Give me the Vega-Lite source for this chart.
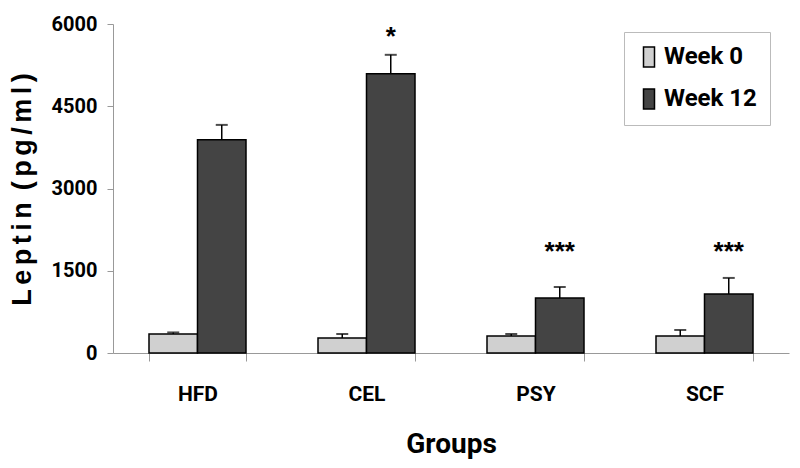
{
  "$schema": "https://vega.github.io/schema/vega-lite/v6.json",
  "autosize": "none",
  "padding": {"left": 113, "top": 24, "right": 11, "bottom": 115},
  "width": 676,
  "height": 329,
  "background": "white",
  "config": {"view": {"stroke": null}},
  "data": {"values": [
    {"group": "HFD", "week": "Week 0", "value": 347, "upper": 375},
    {"group": "HFD", "week": "Week 12", "value": 3887, "upper": 4160},
    {"group": "CEL", "week": "Week 0", "value": 274, "upper": 347},
    {"group": "CEL", "week": "Week 12", "value": 5091, "upper": 5438, "sig": "*", "sigAt": 5620},
    {"group": "PSY", "week": "Week 0", "value": 310, "upper": 347},
    {"group": "PSY", "week": "Week 12", "value": 1004, "upper": 1204, "sig": "***", "sigAt": 1700},
    {"group": "SCF", "week": "Week 0", "value": 310, "upper": 420},
    {"group": "SCF", "week": "Week 12", "value": 1077, "upper": 1369, "sig": "***", "sigAt": 1700}
  ]},
  "encoding": {
    "x": {
      "field": "group", "type": "nominal", "sort": ["HFD", "CEL", "PSY", "SCF"],
      "scale": {"paddingInner": 0.426, "paddingOuter": 0.213},
      "axis": {
        "title": "Groups", "labelAngle": 0, "tickBand": "extent", "grid": false,
        "domainColor": "#999999", "tickColor": "#999999", "tickSize": 8,
        "labelFont": "Roboto, sans-serif",
        "labelFontSize": 21, "labelFontWeight": "bold", "labelColor": "black", "labelPadding": 22,
        "titleFont": "Roboto, sans-serif",
        "titleFontSize": 28, "titleFontWeight": "bold", "titleColor": "black",
        "titleY": 99, "titleBaseline": "alphabetic"
      }
    },
    "xOffset": {"field": "week", "type": "nominal", "scale": {"paddingInner": 0, "paddingOuter": 0}}
  },
  "layer": [
    {
      "mark": {"type": "bar", "stroke": "black", "strokeWidth": 1.5},
      "encoding": {
        "y": {
          "field": "value", "type": "quantitative",
          "scale": {"domain": [0, 6000], "nice": false},
          "axis": {
            "title": "L\u2006e\u2006p\u2006t\u2006i\u2006n \u2006(\u2006p\u2006g\u2006/\u2006m\u2006l\u2006)",
            "values": [0, 1500, 3000, 4500, 6000], "format": "d", "grid": false,
            "domainColor": "#999999", "tickColor": "#999999", "tickSize": 6,
            "labelFont": "Roboto, sans-serif",
            "labelFontSize": 20, "labelFontWeight": "bold", "labelColor": "black", "labelPadding": 10,
            "titleFont": "Liberation Sans, Arial, sans-serif", "titleFontSize": 27, "titleFontWeight": "bold",
            "titleColor": "black", "titleAngle": -90, "titleX": -91, "titleY": 165,
            "titleAlign": "center", "titleBaseline": "middle"
          }
        },
        "fill": {
          "field": "week", "type": "nominal",
          "scale": {"domain": ["Week 0", "Week 12"], "range": ["#d0d0d0", "#444444"]},
          "legend": {
            "title": null, "orient": "none", "legendX": 511, "legendY": 8,
            "strokeColor": "#bbbbbb", "fillColor": "white", "padding": 13,
            "symbolType": "M-0.55,-1H0.55V1H-0.55Z", "symbolSize": 400,
            "symbolStrokeColor": "black", "symbolStrokeWidth": 1.5,
            "labelFont": "Roboto, sans-serif",
            "labelFontSize": 24, "labelFontWeight": "bold", "labelColor": "black",
            "labelOffset": 3, "rowPadding": 16
          }
        }
      }
    },
    {
      "mark": {"type": "rule", "color": "black", "strokeWidth": 1.5},
      "encoding": {
        "y": {"field": "value", "type": "quantitative"},
        "y2": {"field": "upper"}
      }
    },
    {
      "mark": {"type": "tick", "color": "black", "size": 12, "thickness": 2},
      "encoding": {
        "y": {"field": "upper", "type": "quantitative"}
      }
    },
    {
      "transform": [{"filter": "datum.sig"}],
      "mark": {"type": "text", "font": "Liberation Sans, Arial, sans-serif", "fontSize": 26, "fontWeight": "bold", "baseline": "alphabetic", "color": "black"},
      "encoding": {
        "y": {"field": "sigAt", "type": "quantitative"},
        "text": {"field": "sig"}
      }
    }
  ]
}
